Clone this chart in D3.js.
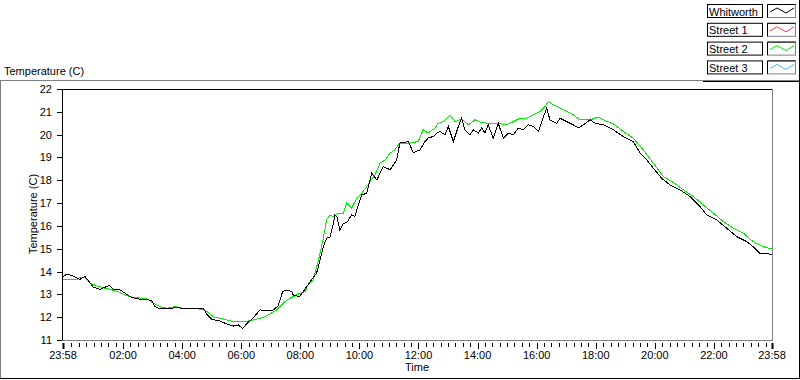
<!DOCTYPE html>
<html>
<head>
<meta charset="utf-8">
<script src="https://cdn.jsdelivr.net/npm/d3@7"></script>
<style>
  body { margin: 0; background: #fff; }
  svg { display: block; font-family: "Liberation Sans", Arial, sans-serif; font-size: 11px; }
</style>
</head>
<body>
<div id="chart"></div>
<script>
// hours after midnight (23:58 of the day before = -0.03)
const whitworthHour = [-0.03, 0.09, 0.31, 0.54, 0.71, 0.88, 0.99, 1.22, 1.39, 1.53, 1.67, 1.90, 2.07, 2.29, 2.57, 2.80, 2.97, 3.08, 3.25, 3.48,
  3.76, 4.04, 4.38, 4.72, 4.83, 5.00, 5.28, 5.51, 5.73, 5.90, 6.05, 6.18, 6.41, 6.64, 6.86, 7.09, 7.25, 7.40, 7.54, 7.71,
  7.76, 7.97, 8.10, 8.27, 8.55, 8.67, 8.78, 8.89, 9.00, 9.12, 9.17, 9.24, 9.34, 9.46, 9.57, 9.74, 9.85, 9.96, 10.08, 10.25,
  10.36, 10.42, 10.59, 10.81, 11.04, 11.26, 11.37, 11.66, 11.82, 12.05, 12.22, 12.33, 12.50, 12.62, 12.73, 12.90, 13.01, 13.18, 13.35, 13.46,
  13.57, 13.74, 13.86, 14.03, 14.14, 14.25, 14.36, 14.53, 14.70, 14.87, 15.04, 15.21, 15.38, 15.55, 15.72, 15.89, 16.06, 16.17, 16.34, 16.45,
  16.68, 16.79, 17.02, 17.24, 17.41, 17.58, 17.81, 17.98, 18.26, 18.60, 18.93, 19.27, 19.50, 19.73, 19.95, 20.23, 20.51, 20.85, 21.19, 21.53,
  21.76, 22.10, 22.43, 22.77, 23.11, 23.33, 23.56, 23.96];
const whitworthTemp = [13.78, 13.88, 13.81, 13.66, 13.78, 13.51, 13.31, 13.22, 13.31, 13.40, 13.22, 13.19, 13.05, 12.86, 12.79, 12.79, 12.72, 12.46, 12.37, 12.36,
  12.42, 12.39, 12.37, 12.37, 12.14, 11.91, 11.83, 11.70, 11.61, 11.66, 11.50, 11.70, 11.98, 12.32, 12.27, 12.32, 12.50, 13.12, 13.19, 13.12,
  12.97, 12.90, 13.12, 13.44, 13.93, 14.51, 15.09, 15.46, 15.50, 16.12, 16.48, 16.39, 15.82, 16.12, 16.14, 16.48, 16.41, 16.92, 17.36, 17.43,
  18.02, 18.31, 18.02, 18.60, 18.46, 18.89, 19.63, 19.70, 19.21, 19.33, 19.70, 19.85, 19.92, 20.07, 20.14, 19.99, 20.36, 19.70, 20.36, 20.72,
  20.21, 19.99, 20.21, 20.07, 20.29, 20.07, 20.43, 19.85, 20.50, 19.85, 20.07, 19.99, 20.29, 20.21, 20.43, 20.36, 20.14, 20.57, 21.16, 20.65,
  20.50, 20.72, 20.57, 20.43, 20.29, 20.43, 20.65, 20.50, 20.43, 20.21, 19.92, 19.70, 19.19, 18.89, 18.53, 18.09, 17.80, 17.58, 17.29, 16.85,
  16.48, 16.26, 15.90, 15.53, 15.31, 15.09, 14.80, 14.76];

const street2Hour = [-0.03, 0.47, 0.54, 0.71, 0.88, 1.11, 1.33, 1.56, 1.84, 2.07, 2.35, 2.68, 2.85, 3.02, 3.25, 3.48, 3.76, 4.04, 4.38, 4.72,
  4.89, 5.05, 5.28, 5.51, 5.73, 6.07, 6.30, 6.52, 6.75, 6.97, 7.20, 7.37, 7.54, 7.76, 7.99, 8.16, 8.27, 8.43, 8.60, 8.77,
  8.89, 9.00, 9.14, 9.28, 9.46, 9.57, 9.74, 9.91, 10.08, 10.25, 10.36, 10.53, 10.70, 10.87, 11.04, 11.20, 11.37, 11.71, 11.99, 12.16,
  12.33, 12.56, 12.67, 12.84, 13.07, 13.24, 13.46, 13.69, 13.91, 14.14, 14.36, 14.70, 14.98, 15.21, 15.44, 15.67, 15.89, 16.11, 16.28, 16.40,
  16.57, 16.90, 17.24, 17.47, 17.81, 18.09, 18.31, 18.60, 18.93, 19.27, 19.61, 19.95, 20.29, 20.63, 20.97, 21.30, 21.64, 21.98, 22.32, 22.66,
  23.00, 23.33, 23.67, 23.96];
const street2Temp = [13.66, 13.66, 13.75, 13.75, 13.49, 13.37, 13.29, 13.22, 13.12, 12.97, 12.86, 12.83, 12.79, 12.61, 12.46, 12.39, 12.46, 12.39, 12.37, 12.35,
  12.20, 12.02, 11.95, 11.88, 11.80, 11.80, 11.85, 11.91, 12.00, 12.14, 12.32, 12.54, 12.75, 12.90, 13.05, 13.12, 13.44, 13.63, 14.43, 15.39,
  16.26, 16.48, 16.39, 16.56, 16.56, 17.00, 16.78, 17.21, 17.43, 17.72, 17.94, 18.24, 18.75, 18.89, 19.19, 19.33, 19.63, 19.63, 19.70, 20.21,
  20.07, 20.29, 20.50, 20.57, 20.87, 20.57, 20.68, 20.43, 20.65, 20.53, 20.50, 20.50, 20.43, 20.57, 20.72, 20.72, 20.87, 21.01, 21.23, 21.45,
  21.31, 21.09, 20.87, 20.65, 20.65, 20.77, 20.62, 20.47, 20.14, 19.85, 19.33, 18.75, 18.16, 17.90, 17.58, 17.29, 16.92, 16.56, 16.19, 15.90,
  15.68, 15.31, 15.09, 14.99];

// Street 1 and Street 3 show no visible trace in the picture
const street1Hour = [], street1Temp = [];
const street3Hour = [], street3Temp = [];

const yTicks = [11, 12, 13, 14, 15, 16, 17, 18, 19, 20, 21, 22];
const xTickLabels = ["23:58", "02:00", "04:00", "06:00", "08:00", "10:00", "12:00", "14:00", "16:00", "18:00", "20:00", "22:00", "23:58"];
const legendNames = ["Whitworth", "Street 1", "Street 2", "Street 3"];
const legendColors = ["#000000", "#ff3c3c", "#00ee00", "#33bbff"];

const width = 800, height = 380;

const svg = d3.select("#chart")
  .append("svg")
  .attr("width", width)
  .attr("height", height);

// "HH:MM" -> hours, the first label belongs to the day before
const toHour = (s, i) => {
  const [h, m] = s.split(":").map(Number);
  return h + m / 60 - (i === 0 ? 24 : 0);
};
const xMin = toHour(xTickLabels[0], 0);
const xMax = toHour(xTickLabels[xTickLabels.length - 1], 1);

const xScale = d3.scaleLinear()
  .domain([xMin, xMax])
  .range([63, 772]);

const yScale = d3.scaleLinear()
  .domain([d3.min(yTicks), d3.max(yTicks)])
  .range([340, 89]);

// outer panel, raised look
svg.append("line").attr("x1", 0).attr("y1", 80.5).attr("x2", 800).attr("y2", 80.5).attr("stroke", "#808080");
svg.append("line").attr("x1", 0.5).attr("y1", 80).attr("x2", 0.5).attr("y2", 379).attr("stroke", "#808080");
svg.append("line").attr("x1", 0).attr("y1", 378.5).attr("x2", 800).attr("y2", 378.5).attr("stroke", "#000");
svg.append("line").attr("x1", 799.5).attr("y1", 0).attr("x2", 799.5).attr("y2", 379).attr("stroke", "#000");
svg.append("line").attr("x1", 703).attr("y1", 81.5).attr("x2", 799).attr("y2", 81.5).attr("stroke", "#000");

svg.append("text")
  .attr("x", 4)
  .attr("y", 75)
  .text("Temperature (C)");

// plot frame: top/left black, right/bottom grey
svg.append("line").attr("x1", 62).attr("y1", 89.5).attr("x2", 772).attr("y2", 89.5).attr("stroke", "#000");
svg.append("line").attr("x1", 62.5).attr("y1", 89).attr("x2", 62.5).attr("y2", 341).attr("stroke", "#000");
svg.append("line").attr("x1", 62).attr("y1", 340.5).attr("x2", 773).attr("y2", 340.5).attr("stroke", "#808080");
svg.append("line").attr("x1", 772.5).attr("y1", 89).attr("x2", 772.5).attr("y2", 341).attr("stroke", "#808080");

// y axis ticks + labels
const yAxis = svg.append("g");
yAxis.selectAll("line")
  .data(yTicks)
  .join("line")
  .attr("x1", 57).attr("x2", 62)
  .attr("y1", d => Math.round(yScale(d)) + 0.5)
  .attr("y2", d => Math.round(yScale(d)) + 0.5)
  .attr("stroke", "#000");
yAxis.selectAll("text")
  .data(yTicks)
  .join("text")
  .attr("x", 52)
  .attr("y", d => yScale(d) + 4)
  .attr("text-anchor", "end")
  .text(d => d);

svg.append("text")
  .attr("transform", "translate(37, 214) rotate(-90)")
  .attr("text-anchor", "middle")
  .text("Temperature (C)");

// x axis: major ticks at labels, minor every 15 min
const majorHours = xTickLabels.map(toHour);
const minorHours = d3.range(1, 96)
  .map(q => q / 4)
  .filter(h => !majorHours.includes(h));

const xAxis = svg.append("g");
xAxis.selectAll("line.minor")
  .data(minorHours)
  .join("line")
  .attr("class", "minor")
  .attr("x1", d => Math.round(xScale(d)) + 0.5)
  .attr("x2", d => Math.round(xScale(d)) + 0.5)
  .attr("y1", 343).attr("y2", 347)
  .attr("stroke", "#000");
xAxis.selectAll("line.major")
  .data(majorHours)
  .join("line")
  .attr("class", "major")
  .attr("x1", d => Math.round(xScale(d)) + 0.5)
  .attr("x2", d => Math.round(xScale(d)) + 0.5)
  .attr("y1", 343).attr("y2", 349)
  .attr("stroke", "#000")
  .attr("stroke-width", (d, i) => (i === 0 || i === majorHours.length - 1) ? 2 : 1);
xAxis.selectAll("text")
  .data(xTickLabels)
  .join("text")
  .attr("x", (d, i) => xScale(majorHours[i]))
  .attr("y", 359)
  .attr("text-anchor", "middle")
  .text(d => d);

svg.append("text")
  .attr("x", 417)
  .attr("y", 371)
  .attr("text-anchor", "middle")
  .text("Time");

// data lines
svg.append("clipPath").attr("id", "plotClip")
  .append("rect").attr("x", 63).attr("y", 90).attr("width", 709).attr("height", 250);

const line = d3.line()
  .x(d => xScale(d[0]))
  .y(d => yScale(d[1]));

const series = [
  { hours: street1Hour, temps: street1Temp, color: legendColors[1] },
  { hours: street3Hour, temps: street3Temp, color: legendColors[3] },
  { hours: street2Hour, temps: street2Temp, color: legendColors[2] },
  { hours: whitworthHour, temps: whitworthTemp, color: legendColors[0] }
];

svg.append("g")
  .attr("clip-path", "url(#plotClip)")
  .selectAll("path")
  .data(series)
  .join("path")
  .attr("d", s => line(d3.zip(s.hours, s.temps)))
  .attr("fill", "none")
  .attr("stroke", s => s.color)
  .attr("stroke-width", 1)
  .attr("shape-rendering", "crispEdges");

// legend in the top right corner
const legendRow = svg.append("g")
  .selectAll("g")
  .data(legendNames)
  .join("g")
  .attr("transform", (d, i) => `translate(0, ${4 + i * 18.8})`);

legendRow.append("rect")
  .attr("x", 707.5).attr("y", 0.5)
  .attr("width", 55).attr("height", 13)
  .attr("fill", "#fff")
  .attr("stroke", "#000");

legendRow.append("text")
  .attr("x", 709)
  .attr("y", 11.5)
  .text(d => d);

legendRow.append("rect")
  .attr("x", 767.5).attr("y", 0.5)
  .attr("width", 28).attr("height", 13)
  .attr("fill", "#fff")
  .attr("stroke", "#808080");
legendRow.append("path")
  .attr("d", "M767.5,13.5V0.5H795.5")
  .attr("fill", "none")
  .attr("stroke", "#000");

legendRow.append("path")
  .attr("d", "M770,8 L777,4 L786,9 L794,4")
  .attr("fill", "none")
  .attr("stroke", (d, i) => legendColors[i]);
</script>
</body>
</html>
